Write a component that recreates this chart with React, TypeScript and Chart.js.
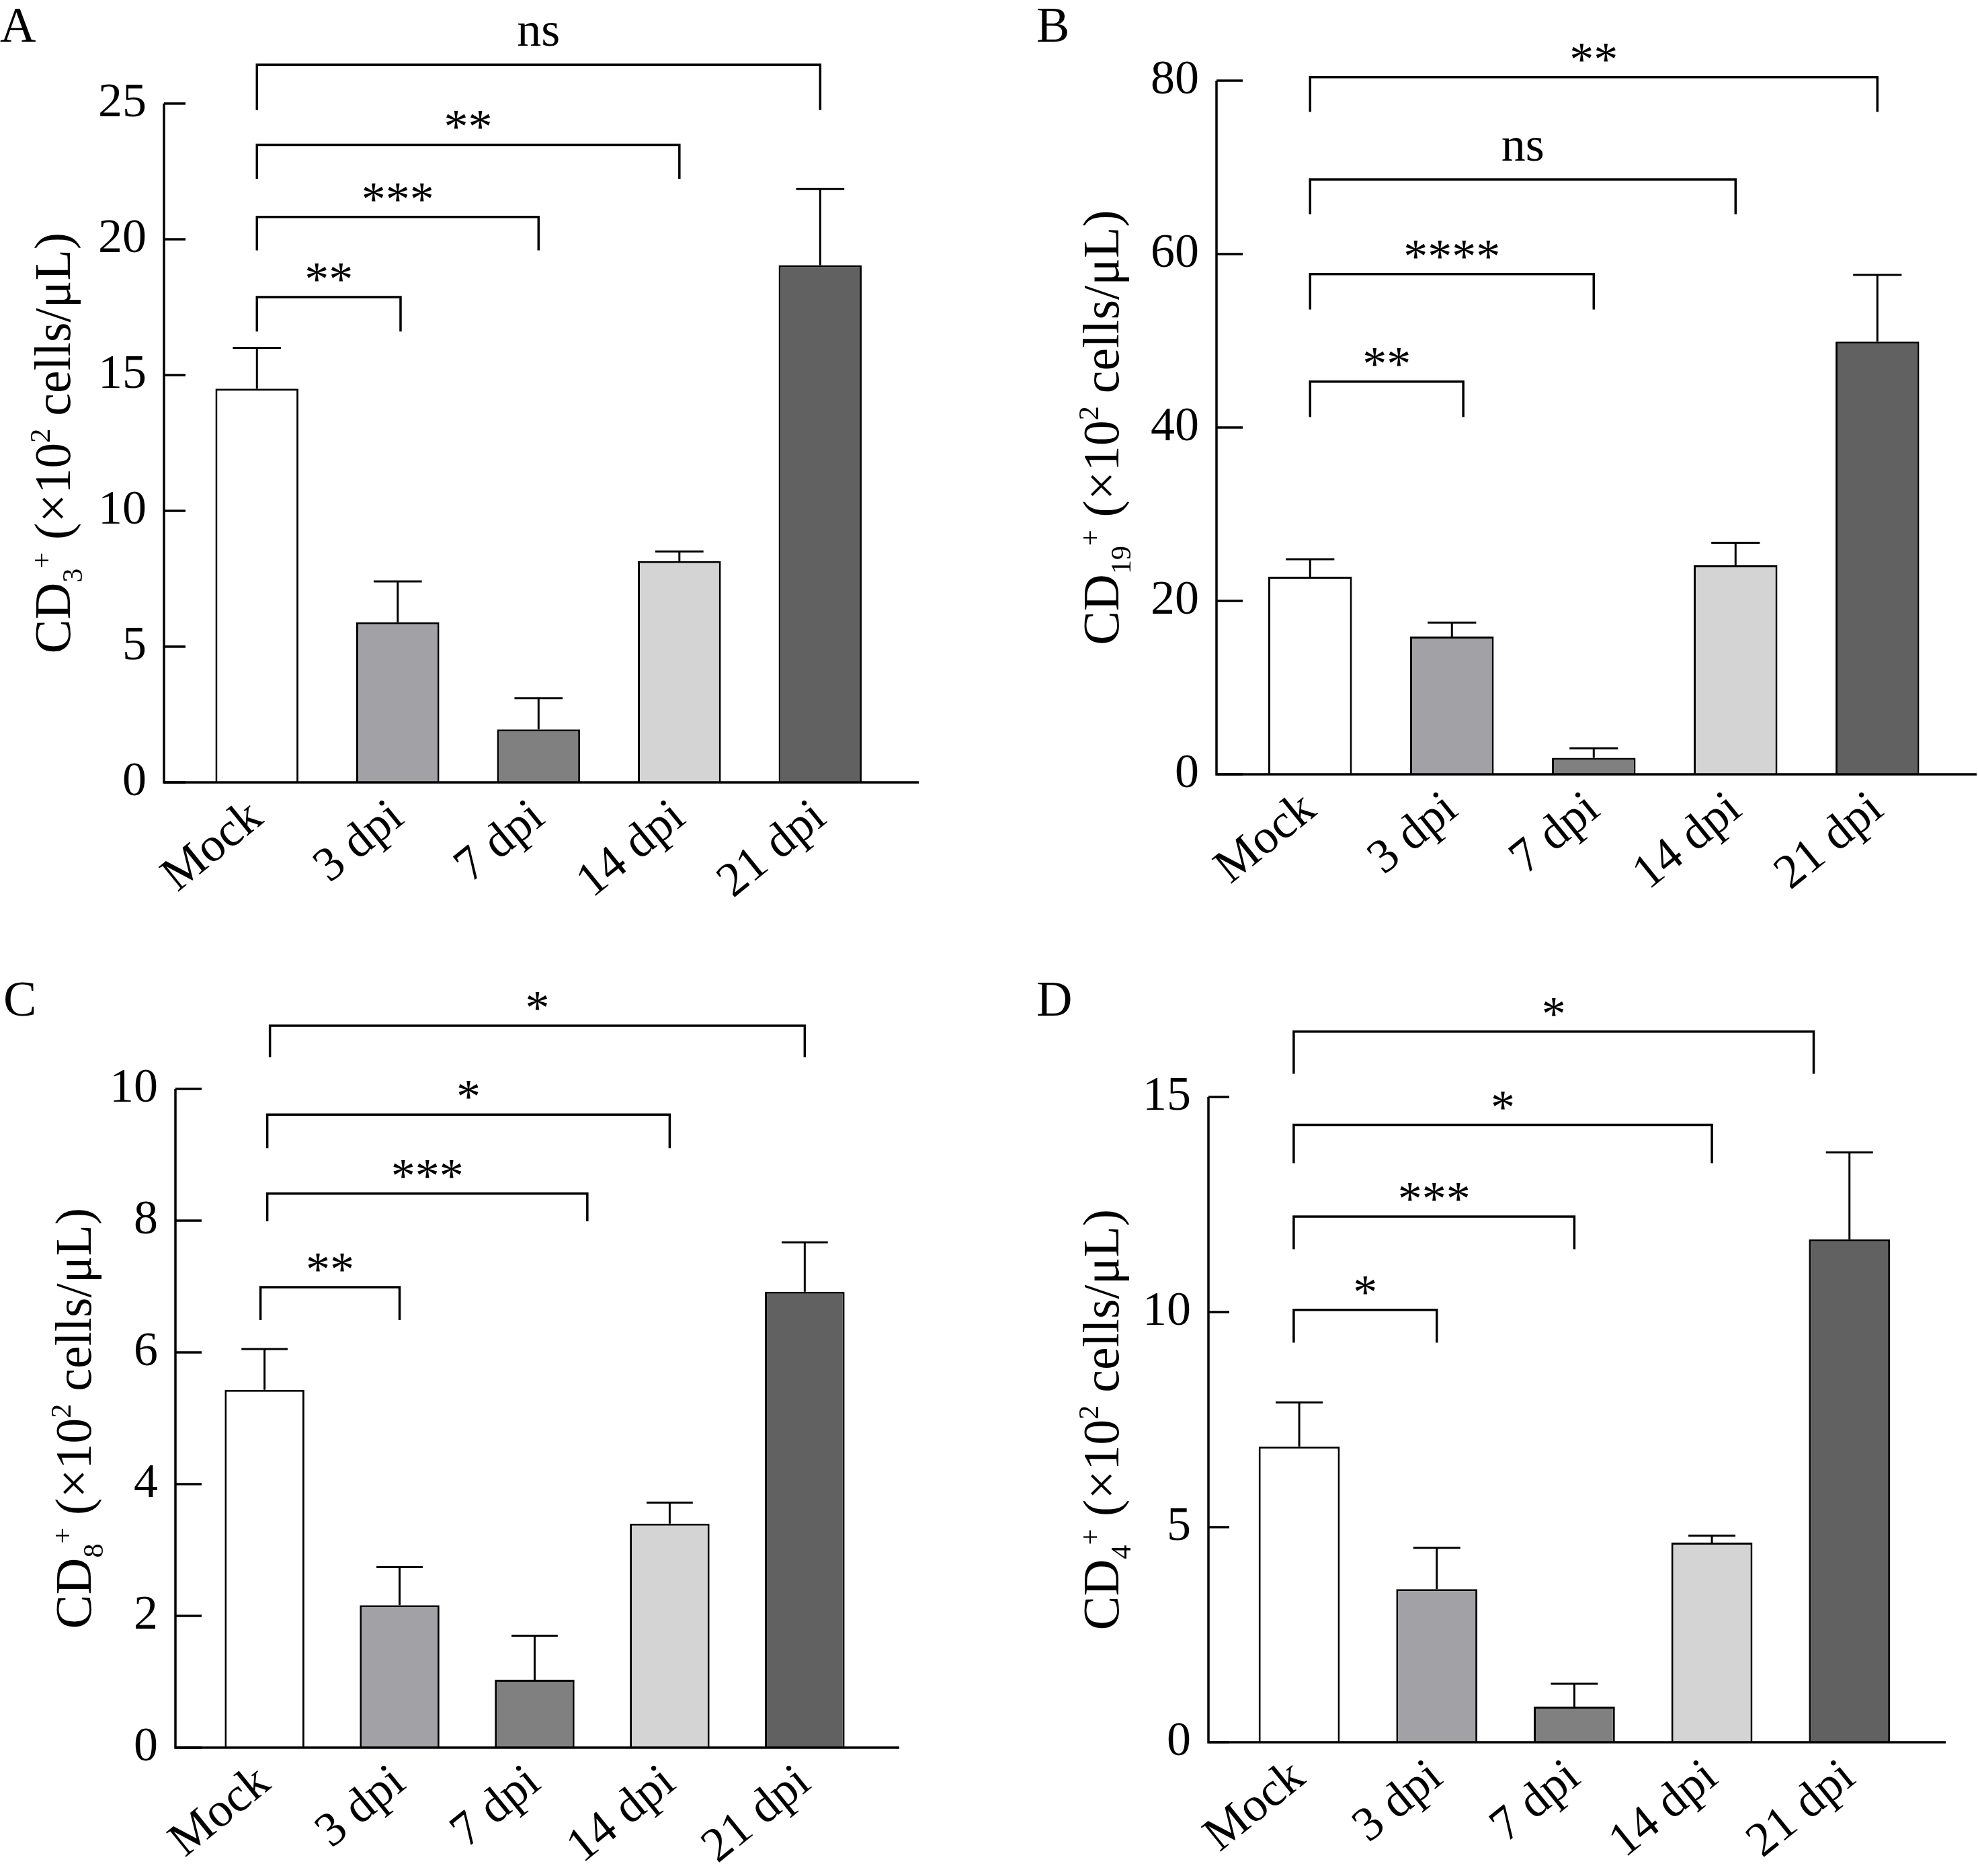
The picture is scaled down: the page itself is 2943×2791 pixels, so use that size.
import React, { useEffect, useRef } from 'react'
import Chart from 'chart.js/auto'

const categories = ['Mock', '3 dpi', '7 dpi', '14 dpi', '21 dpi']
const barColors = ['#ffffff', '#a2a2a6', '#808080', '#d4d4d4', '#616161']

// A: CD3+
const cd3Means = [14.5, 5.9, 1.95, 8.15, 19.05]
const cd3Errors = [1.5, 1.5, 1.15, 0.35, 2.8]
const cd3Ticks = [0, 5, 10, 15, 20, 25]
const cd3BracketFrom = [0, 0, 0, 0]
const cd3BracketTo = [1.02, 2, 3, 4]
const cd3BracketTop = [17.87, 20.82, 23.48, 26.43]
const cd3BracketFoot = [16.6, 19.59, 22.23, 24.76]
const cd3BracketLabels = ['**', '***', '**', 'ns']

// B: CD19+
const cd19Means = [22.8, 15.9, 1.9, 24.1, 49.9]
const cd19Errors = [2.0, 1.6, 1.1, 2.6, 7.7]
const cd19Ticks = [0, 20, 40, 60, 80]
const cd19BracketFrom = [0, 0, 0, 0]
const cd19BracketTo = [1.08, 2, 3, 4]
const cd19BracketTop = [45.3, 57.7, 68.6, 80.4]
const cd19BracketFoot = [41.2, 53.6, 64.6, 76.4]
const cd19BracketLabels = ['**', '****', 'ns', '**']

// C: CD8+
const cd8Means = [5.43, 2.16, 1.03, 3.4, 6.92]
const cd8Errors = [0.62, 0.58, 0.67, 0.32, 0.75]
const cd8Ticks = [0, 2, 4, 6, 8, 10]
const cd8BracketFrom = [-0.03, 0.02, 0.02, 0.04]
const cd8BracketTo = [1, 2.39, 3, 4]
const cd8BracketTop = [6.99, 8.41, 9.61, 10.96]
const cd8BracketFoot = [6.49, 7.99, 9.1, 10.48]
const cd8BracketLabels = ['**', '***', '*', '*']

// D: CD4+
const cd4Means = [6.87, 3.56, 0.83, 4.64, 11.69]
const cd4Errors = [1.03, 0.96, 0.53, 0.16, 2.02]
const cd4Ticks = [0, 5, 10, 15]
const cd4BracketFrom = [-0.04, -0.04, -0.04, -0.04]
const cd4BracketTo = [1, 2, 3, 3.74]
const cd4BracketTop = [10.05, 12.22, 14.35, 16.52]
const cd4BracketFoot = [9.29, 11.46, 13.46, 15.54]
const cd4BracketLabels = ['*', '***', '*', '*']

const SERIF = '"Liberation Serif", "Times New Roman", serif'

type PanelProps = {
  letter: string
  sub: string
  means: number[]
  errors: number[]
  ticks: number[]
  bFrom: number[]
  bTo: number[]
  bTop: number[]
  bFoot: number[]
  bLabels: string[]
  left: number
  top: number
  width: number
  height: number
  yAxisWidth: number
  xAxisHeight: number
  padTop: number
  padRight: number
  tickLen: number
  titleX: number
  letterX: number
  letterY: number
}

// rotated y title with subscript/superscript pieces
function drawTitle(ctx: CanvasRenderingContext2D, x: number, cy: number, sub: string) {
  const big = `76px ${SERIF}`
  const small = `42px ${SERIF}`
  ctx.font = big
  const wCD = ctx.measureText('CD').width
  const wMid = ctx.measureText(' (\u00d710').width
  const wEnd = ctx.measureText(' cells/\u03bcL)').width
  ctx.font = small
  const wSub = ctx.measureText(sub).width
  const wPlus = ctx.measureText('+').width
  const w2 = ctx.measureText('2').width
  const total = wCD + wSub + wPlus + wMid + w2 + wEnd
  ctx.save()
  ctx.translate(x, cy)
  ctx.rotate(-Math.PI / 2)
  ctx.textAlign = 'left'
  ctx.textBaseline = 'alphabetic'
  let px = -total / 2
  ctx.font = big
  ctx.fillText('CD', px, 0)
  px += wCD
  ctx.font = small
  ctx.fillText(sub, px, 18)
  px += wSub
  ctx.fillText('+', px, -28)
  px += wPlus
  ctx.font = big
  ctx.fillText(' (\u00d710', px, 0)
  px += wMid
  ctx.font = small
  ctx.fillText('2', px, -30)
  px += w2
  ctx.font = big
  ctx.fillText(' cells/\u03bcL)', px, 0)
  ctx.restore()
}

function Panel(p: PanelProps) {
  const canvasRef = useRef<HTMLCanvasElement | null>(null)
  const chartInstance = useRef<Chart | null>(null)

  useEffect(() => {
    if (!canvasRef.current) return
    if (chartInstance.current) chartInstance.current.destroy()

    const overlay = {
      id: 'overlay' + p.letter,
      afterDraw(chart: any) {
        const { ctx, chartArea } = chart
        const xs = chart.scales.x
        const ys = chart.scales.y
        ctx.save()
        ctx.strokeStyle = '#000'
        ctx.fillStyle = '#000'
        ctx.lineWidth = 3.5
        ctx.lineJoin = 'miter'
        const y0 = ys.getPixelForValue(0)
        const yMax = ys.getPixelForValue(p.ticks[p.ticks.length - 1])

        // axes
        ctx.beginPath()
        ctx.moveTo(chartArea.left, yMax)
        ctx.lineTo(chartArea.left, y0)
        ctx.lineTo(chartArea.right, y0)
        ctx.stroke()

        // inward y ticks
        p.ticks.forEach((t) => {
          const py = ys.getPixelForValue(t)
          ctx.beginPath()
          ctx.moveTo(chartArea.left, py)
          ctx.lineTo(chartArea.left + p.tickLen, py)
          ctx.stroke()
        })

        // error bars (upper only)
        ctx.lineWidth = 3
        const meta = chart.getDatasetMeta(0)
        meta.data.forEach((bar: any, i: number) => {
          const { x, y, width } = bar.getProps(['x', 'y', 'width'], true)
          const ey = ys.getPixelForValue(p.means[i] + p.errors[i])
          const half = width * 0.29
          ctx.beginPath()
          ctx.moveTo(x, y)
          ctx.lineTo(x, ey)
          ctx.moveTo(x - half, ey)
          ctx.lineTo(x + half, ey)
          ctx.stroke()
        })

        // significance brackets
        ctx.lineWidth = 3.5
        ctx.textAlign = 'center'
        ctx.textBaseline = 'alphabetic'
        ctx.font = `72px ${SERIF}`
        p.bLabels.forEach((label, i) => {
          const x1 = xs.getPixelForValue(p.bFrom[i])
          const x2 = xs.getPixelForValue(p.bTo[i])
          const yt = ys.getPixelForValue(p.bTop[i])
          const yf = ys.getPixelForValue(p.bFoot[i])
          ctx.beginPath()
          ctx.moveTo(x1, yf)
          ctx.lineTo(x1, yt)
          ctx.lineTo(x2, yt)
          ctx.lineTo(x2, yf)
          ctx.stroke()
          const isStar = label.includes('*')
          ctx.fillText(label, (x1 + x2) / 2, yt - (isStar ? 3 : 28))
        })

        // y-axis title
        drawTitle(ctx, p.titleX, (chartArea.top + y0) / 2, p.sub)

        // panel letter
        ctx.font = `74px ${SERIF}`
        ctx.textAlign = 'left'
        ctx.textBaseline = 'alphabetic'
        ctx.fillText(p.letter, p.letterX, p.letterY)
        ctx.restore()
      },
    }

    chartInstance.current = new Chart(canvasRef.current, {
      type: 'bar',
      data: {
        datasets: [
          {
            data: categories.map((_, i) => ({ x: i, y: p.means[i] })),
            backgroundColor: barColors,
            borderColor: '#000',
            borderWidth: 3,
            categoryPercentage: 1,
            barPercentage: 0.59,
          },
        ],
      },
      options: {
        responsive: false,
        animation: false,
        devicePixelRatio: 1,
        layout: { padding: { top: p.padTop, right: p.padRight, left: 0, bottom: 0 } },
        plugins: { legend: { display: false }, tooltip: { enabled: false } },
        scales: {
          x: {
            type: 'linear',
            min: -0.66,
            max: 4.7,
            offset: false,
            grid: { display: false, drawTicks: false },
            border: { display: false },
            afterBuildTicks: (axis: any) => {
              axis.ticks = categories.map((_, i) => ({ value: i }))
            },
            afterFit: (axis: any) => {
              axis.height = p.xAxisHeight
            },
            ticks: {
              autoSkip: false,
              minRotation: 39,
              maxRotation: 39,
              padding: 10,
              color: '#000',
              font: { family: SERIF, size: 72 },
              callback: (v: any) => categories[Math.round(Number(v))] ?? '',
            },
          },
          y: {
            min: 0,
            max: p.ticks[p.ticks.length - 1],
            grid: { display: false, drawTicks: false },
            border: { display: false },
            afterBuildTicks: (axis: any) => {
              axis.ticks = p.ticks.map((t) => ({ value: t }))
            },
            afterFit: (axis: any) => {
              axis.width = p.yAxisWidth
            },
            ticks: {
              padding: 26,
              color: '#000',
              font: { family: SERIF, size: 72 },
            },
          },
        },
      },
      plugins: [overlay],
    } as any)

    return () => {
      if (chartInstance.current) {
        chartInstance.current.destroy()
        chartInstance.current = null
      }
    }
  }, [])

  return (
    <canvas
      ref={canvasRef}
      width={p.width}
      height={p.height}
      style={{ position: 'absolute', left: p.left, top: p.top, width: p.width, height: p.height }}
    />
  )
}

export default function App() {
  return (
    <div style={{ position: 'absolute', left: 0, top: 0, width: 2943, height: 2791, background: '#fff' }}>
      <Panel
        letter="A" sub="3"
        means={cd3Means} errors={cd3Errors} ticks={cd3Ticks}
        bFrom={cd3BracketFrom} bTo={cd3BracketTo} bTop={cd3BracketTop} bFoot={cd3BracketFoot} bLabels={cd3BracketLabels}
        left={0} top={0} width={1471} height={1395}
        yAxisWidth={244} xAxisHeight={231} padTop={154} padRight={104}
        tickLen={32} titleX={104} letterX={0} letterY={62}
      />
      <Panel
        letter="B" sub="19"
        means={cd19Means} errors={cd19Errors} ticks={cd19Ticks}
        bFrom={cd19BracketFrom} bTo={cd19BracketTo} bTop={cd19BracketTop} bFoot={cd19BracketFoot} bLabels={cd19BracketLabels}
        left={1472} top={0} width={1471} height={1395}
        yAxisWidth={338} xAxisHeight={243} padTop={120} padRight={2}
        tickLen={39} titleX={192} letterX={70} letterY={62}
      />
      <Panel
        letter="C" sub="8"
        means={cd8Means} errors={cd8Errors} ticks={cd8Ticks}
        bFrom={cd8BracketFrom} bTo={cd8BracketTo} bTop={cd8BracketTop} bFoot={cd8BracketFoot} bLabels={cd8BracketLabels}
        left={0} top={1395} width={1471} height={1396}
        yAxisWidth={261} xAxisHeight={191} padTop={225} padRight={133}
        tickLen={39} titleX={135} letterX={5} letterY={116}
      />
      <Panel
        letter="D" sub="4"
        means={cd4Means} errors={cd4Errors} ticks={cd4Ticks}
        bFrom={cd4BracketFrom} bTo={cd4BracketTo} bTop={cd4BracketTop} bFoot={cd4BracketFoot} bLabels={cd4BracketLabels}
        left={1472} top={1395} width={1471} height={1396}
        yAxisWidth={326} xAxisHeight={199} padTop={237} padRight={48}
        tickLen={31} titleX={192} letterX={70} letterY={116}
      />
    </div>
  )
}
